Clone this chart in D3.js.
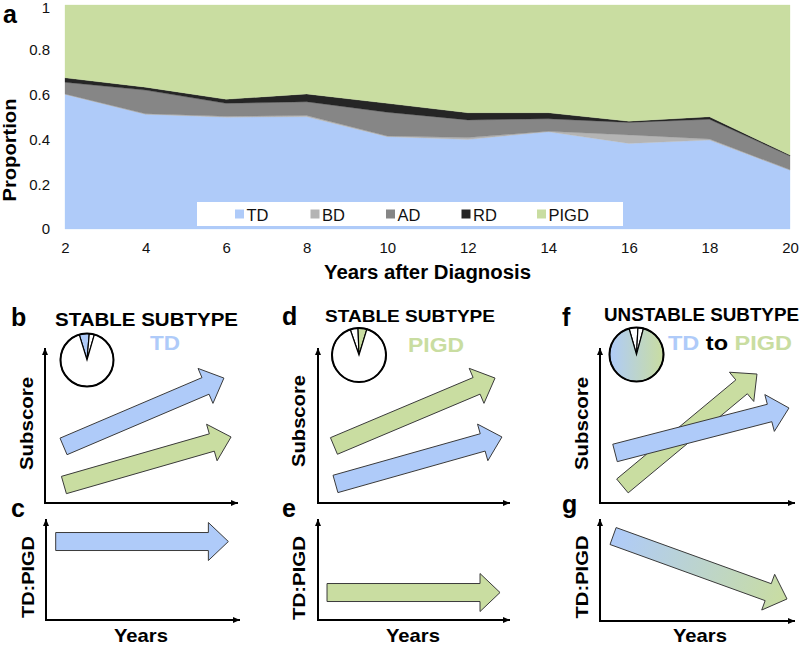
<!DOCTYPE html>
<html><head><meta charset="utf-8">
<script src="https://cdn.jsdelivr.net/npm/d3@7"></script>
<style>
html,body{margin:0;padding:0;background:#fff;}
svg{display:block;font-family:"Liberation Sans",Arial,sans-serif;}
</style></head>
<body>
<svg id="chart" width="800" height="645"></svg>
<script>
// ---------- data: panel a ----------
const years = [2,4,6,8,10,12,14,16,18,20];
const TD   = [0.601,0.512,0.499,0.501,0.412,0.400,0.434,0.382,0.397,0.263];
const BD   = [0.002,0.002,0.004,0.006,0.003,0.008,0.002,0.038,0.005,0.001];
const AD   = [0.052,0.106,0.058,0.061,0.106,0.079,0.056,0.056,0.088,0.062];
const RD   = [0.020,0.013,0.018,0.035,0.040,0.032,0.027,0.005,0.011,0.004];
const PIGD = [0.325,0.367,0.421,0.397,0.439,0.481,0.481,0.519,0.499,0.670];
const seriesKeys = ["TD","BD","AD","RD","PIGD"];
const yTicks = [0,0.2,0.4,0.6,0.8,1];
const yTickLabels = ["0","0.2","0.4","0.6","0.8","1"];
const xTicks = [2,4,6,8,10,12,14,16,18,20];

// ---------- data: schematic panels (axis units 0..10) ----------
const arrowsB = [{c:"TD",x0:0.96,y0:3.65,x1:9.27,y1:8.06},{c:"PIGD",x0:0.98,y0:1.16,x1:9.64,y1:4.26}];
const arrowsC = [{c:"TD",x0:0.50,y0:7.77,x1:9.40,y1:7.77}];
const arrowsD = [{c:"PIGD",x0:0.83,y0:3.68,x1:9.22,y1:8.06},{c:"TD",x0:0.91,y0:1.23,x1:9.58,y1:4.26}];
const arrowsE = [{c:"PIGD",x0:0.47,y0:2.72,x1:9.48,y1:2.72}];
const arrowsF = [{c:"PIGD",x0:1.15,y0:1.10,x1:8.05,y1:8.32},{c:"TD",x0:0.77,y0:3.23,x1:9.69,y1:6.13}];
const arrowsG = [{c:"GRAD",x0:0.67,y0:8.33,x1:9.59,y1:2.16}];
const pieB = [{v:0.061,c:"TD"},{v:0.031,c:"W"},{v:0.908,c:"W"}];
const pieD = [{v:0.047,c:"W"},{v:0.053,c:"PIGD"},{v:0.900,c:"W"}];
const pieF = [{v:0.053,c:"W"},{v:0.033,c:"W"},{v:0.914,c:"GRADPIE"}];
const pieStartDeg = {b:-17, d:-19, f:-16};

// ---------- styles ----------
const color = {TD:"#afcbf9", BD:"#b4b4b4", AD:"#868686", RD:"#252525", PIGD:"#c9dda1", W:"#ffffff",
               GRAD:"url(#gradArrow)", GRADPIE:"url(#gradPie)"};

const svg = d3.select("#chart");
const defs = svg.append("defs");
const gp = defs.append("linearGradient").attr("id","gradPie").attr("x1","0").attr("x2","1").attr("y1","0").attr("y2","0");
gp.append("stop").attr("offset","0%").attr("stop-color",color.TD);
gp.append("stop").attr("offset","100%").attr("stop-color",color.PIGD);
defs.append("marker").attr("id","axHead").attr("markerUnits","userSpaceOnUse")
  .attr("markerWidth",8).attr("markerHeight",7).attr("refX",7).attr("refY",3)
  .attr("orient","auto").append("path").attr("d","M0,0L7,3L0,6Z").attr("fill","#000");

// ---------- panel a ----------
const x = d3.scaleLinear().domain([2,20]).range([65,790]);
const y = d3.scaleLinear().domain([0,1]).range([229,5]);
const table = years.map((yr,i)=>({year:yr,TD:TD[i],BD:BD[i],AD:AD[i],RD:RD[i],PIGD:PIGD[i]}));
const stack = d3.stack().keys(seriesKeys)(table);
const area = d3.area().x(d=>x(d.data.year)).y0(d=>y(d[0])).y1(d=>y(d[1]));
svg.append("g").selectAll("path").data(stack).join("path")
  .attr("d",area).attr("fill",d=>color[d.key]).attr("stroke",d=>color[d.key]).attr("stroke-width",0.3);

const yAxis = svg.append("g").attr("transform","translate(65,0)")
  .call(d3.axisLeft(y).tickValues(yTicks).tickFormat((d,i)=>yTickLabels[i]).tickSize(0).tickPadding(15));
const xAxis = svg.append("g").attr("transform","translate(0,229)")
  .call(d3.axisBottom(x).tickValues(xTicks).tickFormat(d=>String(d)).tickSize(0).tickPadding(13));
[yAxis,xAxis].forEach(g=>{g.select(".domain").remove();
  g.selectAll("text").attr("font-size",15).attr("fill","#111").attr("font-family","Liberation Sans, Arial, sans-serif");});
yAxis.selectAll(".tick").filter(d=>d===1).select("text").attr("dy","0.5em");

svg.append("text").attr("transform","translate(16,150) rotate(-90)").attr("text-anchor","middle")
  .attr("font-weight","bold").attr("font-size",18.5).attr("textLength",103).attr("lengthAdjust","spacingAndGlyphs").text("Proportion");
svg.append("text").attr("x",427.5).attr("y",279).attr("text-anchor","middle")
  .attr("font-weight","bold").attr("font-size",19.5).attr("textLength",207).attr("lengthAdjust","spacingAndGlyphs").text("Years after Diagnosis");

// legend
const lg = svg.append("g");
lg.append("rect").attr("x",197).attr("y",202).attr("width",426).attr("height",24).attr("fill","#fff");
const legX = d3.scalePoint().domain(seriesKeys).range([235,537]);
const li = lg.selectAll("g").data(seriesKeys).join("g").attr("transform",d=>`translate(${legX(d)},0)`);
li.append("rect").attr("x",0).attr("y",209.5).attr("width",9).attr("height",9).attr("fill",d=>color[d]);
li.append("text").attr("x",11.5).attr("y",220.5).attr("font-size",16.5).attr("fill","#111").text(d=>d);

// ---------- schematic panels ----------
function blockArrow(x0,y0,x1,y1,w,hw,hl){
  const L=Math.hypot(x1-x0,y1-y0), ux=(x1-x0)/L, uy=(y1-y0)/L, nx=-uy, ny=ux;
  const bx=x1-ux*hl, by=y1-uy*hl;
  const p=[[x0+nx*w/2,y0+ny*w/2],[bx+nx*w/2,by+ny*w/2],[bx+nx*hw/2,by+ny*hw/2],[x1,y1],
           [bx-nx*hw/2,by-ny*hw/2],[bx-nx*w/2,by-ny*w/2],[x0-nx*w/2,y0-ny*w/2]];
  return "M"+p.map(q=>q[0].toFixed(2)+","+q[1].toFixed(2)).join("L")+"Z";
}
function panel(frame, arrows){
  const sx=d3.scaleLinear().domain([0,10]).range([frame.l,frame.r]);
  const sy=d3.scaleLinear().domain([0,10]).range([frame.b,frame.t]);
  const g=svg.append("g");
  g.append("line").attr("x1",sx(0)).attr("y1",sy(0)).attr("x2",sx(0)).attr("y2",sy(10))
    .attr("stroke","#000").attr("stroke-width",2).attr("marker-end","url(#axHead)");
  g.append("line").attr("x1",sx(0)-1).attr("y1",sy(0)).attr("x2",sx(10)).attr("y2",sy(0))
    .attr("stroke","#000").attr("stroke-width",2).attr("marker-end","url(#axHead)");
  arrows.forEach(a=>{
    if(a.c==="GRAD"){
      const gr=defs.append("linearGradient").attr("id","gradArrow").attr("gradientUnits","userSpaceOnUse")
        .attr("x1",sx(a.x0)).attr("y1",sy(a.y0)).attr("x2",sx(a.x1)).attr("y2",sy(a.y1));
      gr.append("stop").attr("offset","0%").attr("stop-color",color.TD);
      gr.append("stop").attr("offset","100%").attr("stop-color",color.PIGD);
    }
    g.append("path").attr("d",blockArrow(sx(a.x0),sy(a.y0),sx(a.x1),sy(a.y1),18,38,20))
      .attr("fill",color[a.c]).attr("stroke","#3a3a3a").attr("stroke-width",1).attr("stroke-linejoin","miter");
  });
}
panel({l:45,r:238,b:503,t:348},arrowsB);
panel({l:46,r:240,b:620,t:519},arrowsC);
panel({l:318,r:510,b:503,t:348},arrowsD);
panel({l:318,r:510,b:620,t:519},arrowsE);
panel({l:600,r:795,b:503,t:348},arrowsF);
panel({l:600,r:795,b:621,t:519},arrowsG);

function drawPie(cx,cy,r,data,startDeg){
  const a0=startDeg*Math.PI/180;
  const pie=d3.pie().sort(null).value(d=>d.v).startAngle(a0).endAngle(a0+2*Math.PI);
  const arc=d3.arc().innerRadius(0).outerRadius(r);
  const g=svg.append("g").attr("transform",`translate(${cx},${cy})`);
  g.selectAll("path").data(pie(data)).join("path").attr("d",arc)
    .attr("fill",d=>color[d.data.c]).attr("stroke","#000").attr("stroke-width",1.2).attr("stroke-linejoin","miter");
  g.append("circle").attr("r",r).attr("fill","none").attr("stroke","#000").attr("stroke-width",2);
}
drawPie(87,360,26.5,pieB,pieStartDeg.b);
drawPie(359,355,27,pieD,pieStartDeg.d);
drawPie(636.5,354.5,27,pieF,pieStartDeg.f);

// ---------- texts ----------
function txt(x0,y0,s,size,opts={}){
  const t=svg.append("text").attr("x",x0).attr("y",y0).attr("font-size",size).attr("font-weight","bold")
    .attr("fill",opts.fill||"#000").text(s);
  if(opts.len) t.attr("textLength",opts.len).attr("lengthAdjust","spacingAndGlyphs");
  if(opts.anchor) t.attr("text-anchor",opts.anchor);
  return t;
}
function vtxt(cx,cy,s,size,len){
  svg.append("text").attr("transform",`translate(${cx},${cy}) rotate(-90)`).attr("text-anchor","middle")
    .attr("font-size",size).attr("font-weight","bold").attr("textLength",len).attr("lengthAdjust","spacingAndGlyphs").text(s);
}
txt(3,22.5,"a",25);
txt(11,326,"b",25); txt(11,517,"c",25);
txt(282,325,"d",25); txt(282,517,"e",25);
txt(562,326,"f",25); txt(562,513,"g",25);

txt(55,326,"STABLE SUBTYPE",19,{len:183});
txt(325,322,"STABLE SUBTYPE",16.5,{len:170});
txt(604,321,"UNSTABLE SUBTYPE",18,{len:195});
txt(150,350,"TD",21,{fill:color.TD,len:30});
txt(408,352,"PIGD",21,{fill:color.PIGD,len:56});
const tf=svg.append("text").attr("x",668).attr("y",350).attr("font-size",21).attr("font-weight","bold")
  .attr("textLength",124).attr("lengthAdjust","spacingAndGlyphs");
tf.append("tspan").attr("fill",color.TD).text("TD");
tf.append("tspan").attr("fill","#000").text(" to ");
tf.append("tspan").attr("fill",color.PIGD).text("PIGD");

vtxt(33,423.5,"Subscore",18,93);
vtxt(305,421,"Subscore",18,92);
vtxt(588,423.5,"Subscore",18,93);
vtxt(34,577,"TD:PIGD",17,82);
vtxt(305,578,"TD:PIGD",17,84);
vtxt(588,577,"TD:PIGD",17,83);
txt(141,642,"Years",19,{anchor:"middle",len:54});
txt(413,642,"Years",19,{anchor:"middle",len:54});
txt(700,642,"Years",19,{anchor:"middle",len:54});
</script>
</body></html>
